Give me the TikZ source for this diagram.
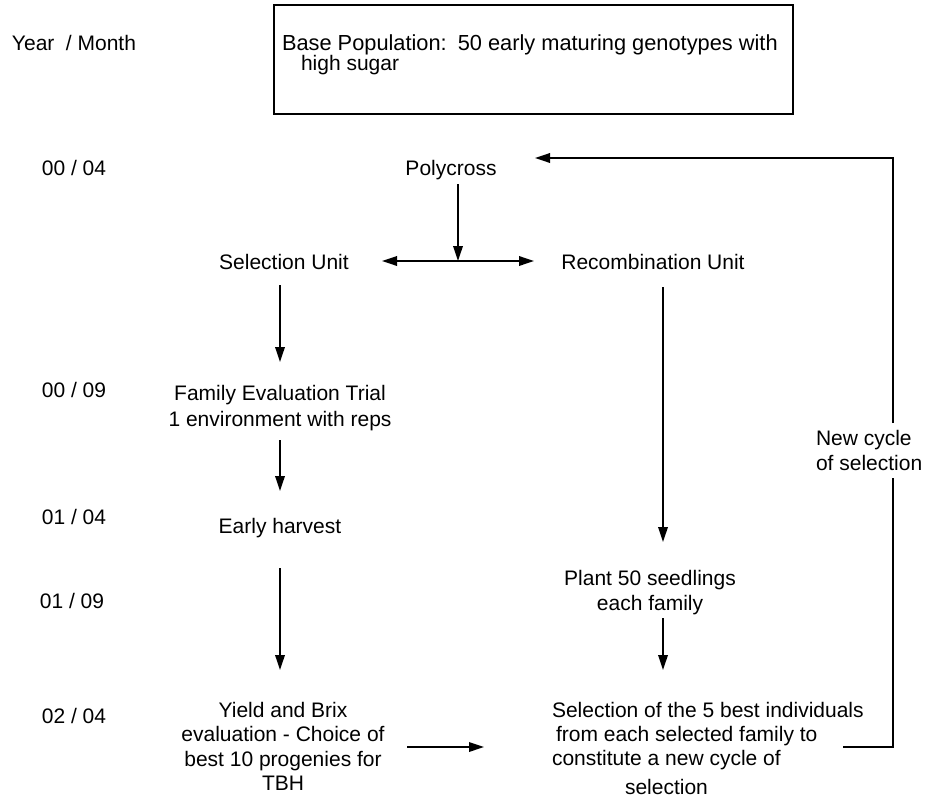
\documentclass[tikz,border=0pt]{standalone}
\usepackage{fontspec}
\setmainfont{Liberation Sans}
\usetikzlibrary{arrows.meta,calc}
\begin{document}
\begin{tikzpicture}[x=1pt,y=-1pt,
  every node/.style={inner sep=0pt, outer sep=0pt, font=\fontsize{21}{25}\selectfont},
  conn/.style={line width=1.8pt},
  arr/.style={conn, -{Triangle[length=15pt,width=9.5pt]}},
  darr/.style={conn, {Triangle[length=15pt,width=9.5pt]}-{Triangle[length=15pt,width=9.5pt]}},
  boxstyle/.style={draw, line width=1.8pt, minimum width=519pt, minimum height=109pt}
]
\useasboundingbox (0,0) rectangle (925,800);

% year / month column
\node[anchor=west] (ym) at (12,43) {Year\hspace{11.5pt}/ Month};
\node (y1) at (74,168) {00 / 04};
\node (y2) at (74,390) {00 / 09};
\node (y3) at (74,517) {01 / 04};
\node (y4) at (72,601) {01 / 09};
\node (y5) at (74,716) {02 / 04};

% base population box
\node[boxstyle] (box) at (533.5,59.5) {};
\node[anchor=west, align=left, font=\fontsize{21}{20}\selectfont] (btxt) at (282,55)
  {{\fontsize{21.8}{20}\selectfont Base Population:\hspace{11pt}50 early maturing genotypes with}\\\hspace*{19pt}high sugar};

% flow nodes
\node (poly) at (451,170) {Polycross};
\node (selu) at (284,262) {Selection Unit};
\node (recu) at (653,262) {Recombination Unit};
\node[align=center, font=\fontsize{21}{26}\selectfont] (fam) at (280,408.5)
  {Family Evaluation Trial\\1 environment with reps};
\node (early) at (280,528) {Early harvest};
\node[align=center, font=\fontsize{21}{24.3}\selectfont] (yield) at (283,746.4)
  {Yield and Brix\\evaluation - Choice of\\best 10 progenies for\\TBH};
\node[align=center] (plant) at (650,592.5) {Plant 50 seedlings\\each family};
\node[anchor=west, align=left, font=\fontsize{21}{24}\selectfont] (selb) at (552,748.4)
  {Selection of the 5 best individuals\\\hspace*{4pt}from each selected family to\\constitute a new cycle of\\[5pt]\hspace*{73pt}selection};
\node[anchor=west, align=left] (newc) at (816,450.4) {New cycle\\of selection};

% connectors
\draw[arr] ($(poly.center)+(7,14)$) -- ($(poly.center)+(7,91)$);
\draw[darr] ($(selu.center)+(98,-1)$) -- ($(recu.center)+(-119,-1)$);
\draw[arr] ($(fam.center)+(0,-123.5)$) -- ($(fam.center)+(0,-46.5)$);
\draw[arr] ($(fam.center)+(0,31.5)$) -- ($(early.center)+(0,-37)$);
\draw[arr] ($(early.center)+(0,40)$) -- ($(yield.center)+(-3,-76.4)$);
\draw[arr] ($(yield.center)+(124,0.6)$) -- ($(yield.center)+(201,0.6)$);
\draw[arr] ($(recu.center)+(10,25)$) -- ($(plant.center)+(13,-50.5)$);
\draw[arr] ($(plant.center)+(13,25.5)$) -- ($(plant.center)+(13,77.5)$);
\draw[conn] ($(selb.west)+(291,-1.4)$) -| ($(newc.west)+(77,27.6)$);
\draw[arr] ($(newc.west)+(77,-27.4)$) |- ($(poly.center)+(84,-12)$);
\end{tikzpicture}
\end{document}
